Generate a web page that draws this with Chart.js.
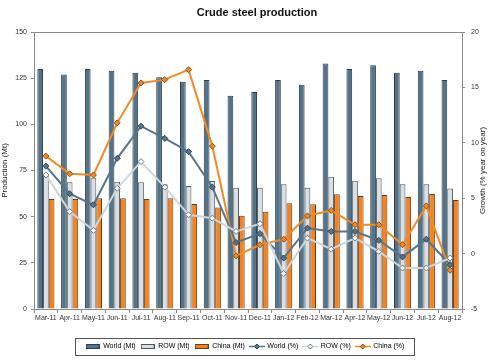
<!DOCTYPE html>
<html>
<head>
<meta charset="utf-8">
<script src="https://cdn.jsdelivr.net/npm/chart.js@4"></script>
<style>
  html, body { margin: 0; padding: 0; background: #fff; }
  #wrap { width: 490px; height: 360px; }
</style>
</head>
<body>
<div id="wrap"><canvas id="chart" width="490" height="360"></canvas></div>
<script>
// months on the x axis
const months = ['Mar-11', 'Apr-11', 'May-11', 'Jun-11', 'Jul-11', 'Aug-11', 'Sep-11', 'Oct-11', 'Nov-11',
  'Dec-11', 'Jan-12', 'Feb-12', 'Mar-12', 'Apr-12', 'May-12', 'Jun-12', 'Jul-12', 'Aug-12'];

// production, Mt (left axis)
const worldMt = [130, 127, 130, 129, 128, 125.5, 123, 124, 115.5, 117.5, 124, 121.5, 133, 130, 132, 128, 129, 124];
const rowMt = [72, 68.6, 70.8, 68.9, 68.6, 67.5, 66.6, 69.3, 65.7, 65.7, 67.5, 65.7, 71.6, 69.5, 70.8, 67.5, 67.5, 65.3];
const chinaMt = [59.6, 59.6, 60, 60, 59.6, 60, 56.8, 55, 50.5, 52.7, 57.2, 56.7, 62.1, 61.2, 61.7, 60.6, 62.3, 59];

// growth, % year on year (right axis)
const worldPct = [7.9, 5.4, 4.4, 8.6, 11.5, 10.4, 9.2, 6.0, 1.0, 1.8, -0.4, 2.3, 2.0, 2.0, 1.2, -0.3, 1.3, -1.0];
const rowPct = [7.1, 3.8, 2.1, 5.9, 8.3, 6.0, 3.5, 3.2, 2.0, 2.7, -1.8, 1.4, 0.4, 1.4, 0.2, -1.3, -1.3, -0.4];
const chinaPct = [8.8, 7.2, 7.1, 11.8, 15.4, 15.7, 16.6, 9.7, -0.2, 0.8, 1.3, 3.4, 3.9, 2.6, 2.6, 0.8, 4.3, -1.5];

const FONT = '"Liberation Sans", Arial, sans-serif';
Chart.defaults.font.family = FONT;
Chart.defaults.font.size = 7;
Chart.defaults.color = '#333';

// little legend swatches
function swatchBar(fill, stroke) {
  const c = document.createElement('canvas');
  c.width = 14; c.height = 5;
  const g = c.getContext('2d');
  g.fillStyle = fill;
  g.fillRect(0, 0, 14, 5);
  g.strokeStyle = stroke;
  g.lineWidth = 1;
  g.strokeRect(0.5, 0.5, 13, 4);
  return c;
}
function swatchLine(color, markFill, markStroke) {
  const c = document.createElement('canvas');
  c.width = 16; c.height = 7;
  const g = c.getContext('2d');
  g.strokeStyle = color;
  g.lineWidth = 1.5;
  g.beginPath(); g.moveTo(0, 3.5); g.lineTo(16, 3.5); g.stroke();
  g.fillStyle = markFill;
  g.strokeStyle = markStroke;
  g.lineWidth = 1;
  g.beginPath(); g.moveTo(8, 1); g.lineTo(10.5, 3.5); g.lineTo(8, 6); g.lineTo(5.5, 3.5); g.closePath();
  g.fill(); g.stroke();
  return c;
}

const frame = {
  id: 'frame',
  afterDraw(chart) {
    const ctx = chart.ctx;
    const a = chart.chartArea;
    ctx.save();
    ctx.strokeStyle = '#8a8a8a';
    ctx.lineWidth = 1;
    ctx.beginPath();
    ctx.moveTo(a.left, a.top + 0.5);
    ctx.lineTo(a.right, a.top + 0.5);
    ctx.stroke();
    // legend box
    const boxes = chart.legend.legendHitBoxes;
    if (boxes.length) {
      let l = Infinity, r = -Infinity, t = Infinity, b = -Infinity;
      boxes.forEach(h => {
        l = Math.min(l, h.left); r = Math.max(r, h.left + h.width);
        t = Math.min(t, h.top); b = Math.max(b, h.top + h.height);
      });
      ctx.strokeStyle = '#555';
      ctx.strokeRect(Math.round(l - 11) + 0.5, Math.round(t - 5) + 0.5, Math.round(r - l + 20), Math.round(b - t + 10));
    }
    // title
    ctx.fillStyle = '#111';
    ctx.font = 'bold 11px ' + FONT;
    ctx.textAlign = 'center';
    ctx.textBaseline = 'middle';
    ctx.fillText('Crude steel production', 257, 13);
    // right axis title, reading upwards like the left one
    ctx.save();
    ctx.translate(483, (a.top + a.bottom) / 2);
    ctx.rotate(-Math.PI / 2);
    ctx.fillStyle = '#222';
    ctx.font = '8px ' + FONT;
    ctx.fillText('Growth (% year on year)', 0, 0);
    ctx.restore();
    ctx.restore();
  }
};

const ctx = document.getElementById('chart').getContext('2d');
new Chart(ctx, {
  data: {
    labels: months,
    datasets: [
      { type: 'bar', label: 'World (Mt)', data: worldMt, yAxisID: 'y', order: 2,
        backgroundColor: '#557388', borderColor: '#2c3e4c', borderWidth: 1,
        legendImg: swatchBar('#557388', '#2c3e4c') },
      { type: 'bar', label: 'ROW (Mt)', data: rowMt, yAxisID: 'y', order: 2,
        backgroundColor: '#d8dfe5', borderColor: '#4a5660', borderWidth: 1,
        legendImg: swatchBar('#d8dfe5', '#4a5660') },
      { type: 'bar', label: 'China (Mt)', data: chinaMt, yAxisID: 'y', order: 2,
        backgroundColor: '#f5821f', borderColor: '#6b3c12', borderWidth: 1,
        legendImg: swatchBar('#f5821f', '#6b3c12') },
      { type: 'line', label: 'World (%)', data: worldPct, yAxisID: 'y1', order: 1,
        borderColor: '#55758c', borderWidth: 2, pointStyle: 'rectRot', pointRadius: 3,
        pointBackgroundColor: '#55758c', pointBorderColor: '#2f4352', pointBorderWidth: 1,
        legendImg: swatchLine('#55758c', '#55758c', '#2f4352') },
      { type: 'line', label: 'ROW (%)', data: rowPct, yAxisID: 'y1', order: 0,
        borderColor: '#cdd6dd', borderWidth: 2, pointStyle: 'rectRot', pointRadius: 3,
        pointBackgroundColor: '#ffffff', pointBorderColor: '#6a7a86', pointBorderWidth: 1,
        legendImg: swatchLine('#cdd6dd', '#ffffff', '#6a7a86') },
      { type: 'line', label: 'China (%)', data: chinaPct, yAxisID: 'y1', order: 1,
        borderColor: '#f28a26', borderWidth: 2, pointStyle: 'rectRot', pointRadius: 3,
        pointBackgroundColor: '#f28a26', pointBorderColor: '#8a4d14', pointBorderWidth: 1,
        legendImg: swatchLine('#f28a26', '#f28a26', '#8a4d14') }
    ]
  },
  options: {
    responsive: false,
    animation: false,
    layout: { padding: { top: 32, left: 0, right: 0, bottom: 0 } },
    datasets: {
      bar: { categoryPercentage: 0.72, barPercentage: 1.0 },
      line: { tension: 0 }
    },
    plugins: {
      title: { display: false },
      tooltip: { enabled: false },
      legend: {
        position: 'bottom',
        labels: {
          usePointStyle: true,
          pointStyleWidth: 14,
          boxHeight: 6,
          padding: 5,
          color: '#333',
          font: { size: 7 },
          generateLabels(chart) {
            return chart.data.datasets.map((ds, i) => ({
              text: ds.label,
              pointStyle: ds.legendImg,
              fillStyle: ds.backgroundColor,
              strokeStyle: ds.borderColor,
              lineWidth: 0,
              hidden: false,
              datasetIndex: i
            }));
          }
        }
      }
    },
    scales: {
      x: {
        offset: true,
        grid: { display: true, offset: true, drawOnChartArea: false, tickLength: 4, color: '#8a8a8a' },
        border: { color: '#8a8a8a' },
        ticks: { maxRotation: 0, autoSkip: false, padding: 1, color: '#333', font: { size: 7 } },
        afterFit(s) { s.height = 29; }
      },
      y: {
        position: 'left',
        min: 0, max: 150,
        ticks: { stepSize: 25, padding: 4, color: '#333', font: { size: 7 } },
        grid: { drawOnChartArea: false, tickLength: 3, color: '#8a8a8a' },
        border: { color: '#8a8a8a' },
        title: { display: true, text: 'Production (Mt)', color: '#222', font: { size: 8 }, padding: 0 },
        afterFit(s) { s.width = 34; }
      },
      y1: {
        position: 'right',
        min: -5, max: 20,
        ticks: { stepSize: 5, padding: 6, color: '#333', font: { size: 7 } },
        grid: { drawOnChartArea: false, tickLength: 3, color: '#8a8a8a' },
        border: { color: '#8a8a8a' },
        afterFit(s) { s.width = 28; }
      }
    }
  },
  plugins: [frame]
});
</script>
</body>
</html>
